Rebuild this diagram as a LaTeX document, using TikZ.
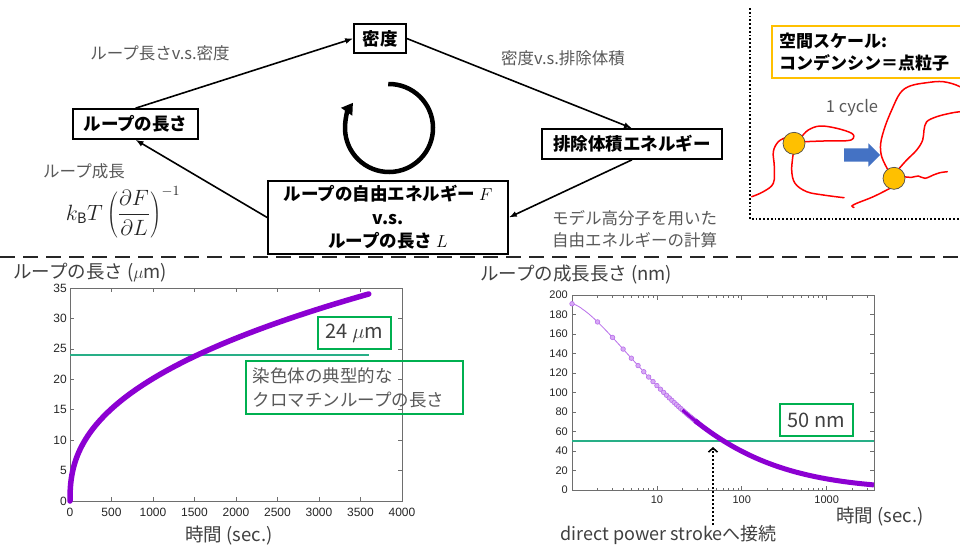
\documentclass[tikz,border=0pt]{standalone}
\usepackage{fontspec}
\setmainfont{Noto Sans CJK JP}
\newfontfamily\tickfont{Liberation Sans}
\usetikzlibrary{arrows.meta}

\definecolor{labelgray}{RGB}{89,89,89}
\definecolor{textdark}{RGB}{64,64,64}
\definecolor{axisgray}{RGB}{110,110,110}
\definecolor{lengthpurple}{RGB}{140,0,210}
\definecolor{markerline}{RGB}{185,110,235}
\definecolor{markerfill}{RGB}{215,170,245}
\definecolor{refteal}{RGB}{40,175,135}
\definecolor{framegreen}{RGB}{0,176,80}
\definecolor{scaleyellow}{RGB}{255,192,0}
\definecolor{stepblue}{RGB}{68,114,196}
\definecolor{chainred}{RGB}{255,0,0}

\tikzset{
  stagebox/.style={draw, line width=1.6pt, inner sep=0pt, align=center,
    font=\fontsize{17.5}{23.5}\selectfont\bfseries},
  flow/.style={line width=1.6pt, -{Latex[length=8pt,width=6pt]}},
  relnote/.style={text=labelgray, inner sep=0pt, font=\fontsize{16.5}{22}\selectfont},
  axislabel/.style={text=textdark, inner sep=0pt, font=\fontsize{18.5}{22}\selectfont},
  greenbox/.style={draw=framegreen, line width=1.8pt, text=textdark, inner sep=0pt},
  ticklabel/.style={text=black!85, inner sep=0pt, font=\tickfont\fontsize{12}{12}\selectfont},
  smalltick/.style={text=black!85, inner sep=0pt, font=\tickfont\fontsize{11}{11}\selectfont},
  axisframe/.style={draw=axisgray, line width=0.8pt},
  tickmark/.style={draw=axisgray, line width=0.7pt},
  chain/.style={chainred, line width=1.5pt, line cap=round},
  condensin/.style={circle, fill=scaleyellow, draw=black!70, line width=0.7pt,
    minimum size=22pt, inner sep=0pt},
  growmark/.style={circle, draw=markerline, fill=markerfill, line width=0.6pt,
    minimum size=4.6pt, inner sep=0pt},
}

\begin{document}
\begin{tikzpicture}[x=1pt,y=-1pt]
\fill[white] (0,0) rectangle (960,547);
\useasboundingbox (0,0) rectangle (960,547);

% ---------- cycle of quantities ----------
\node[stagebox, minimum width=52pt, minimum height=29pt] (dens) at (380,38.5) {密度};
\node[stagebox, minimum width=125pt, minimum height=30pt] (len) at (135.5,124) {ループの長さ};
\node[stagebox, minimum width=180pt, minimum height=30pt] (excl) at (632,144) {排除体積エネルギー};
\node[stagebox, minimum width=240pt, minimum height=73pt] (free) at (388,217.5)
  {ループの自由エネルギー $F$\\v.s.\\ループの長さ $L$};

\draw[flow] (len.north) -- (dens.west);
\draw[flow] (dens.east) -- (excl.north);
\draw[flow] (excl.south) -- (free.east);
\draw[flow] (free.west) -- (len.south);

% clockwise cycle symbol
\coordinate (turn) at (389,128);
\draw[line width=4.5pt, -{Triangle[length=11pt,width=13pt]}]
  ([shift={(-91:44)}]turn) arc[start angle=-91, end angle=215, radius=44];

% relation notes
\node[relnote] (n1) at (160,53) {ループ長さv.s.密度};
\node[relnote] (n2) at (563,58) {密度v.s.排除体積};
\node[relnote] (n3) at (84,171) {ループ成長};
\node[text=black!85, inner sep=0pt, scale=1.28, font=\fontsize{16}{20}\selectfont] (n4) at (123,212)
  {$\displaystyle k_{\mathrm{B}}T\left(\frac{\partial F}{\partial L}\right)^{-1}$};
\node[relnote, align=left, anchor=west] (n5) at (552,229) {モデル高分子を用いた\\自由エネルギーの計算};

% separator
\draw[line width=2.5pt, dash pattern=on 15pt off 8pt, black!85] (0,257) -- (960,257);

% ---------- spatial scale inset ----------
\draw[line width=1.8pt, dotted] (750,8) -- (750,219) -- (962,219);
\node[draw=scaleyellow, line width=2pt, anchor=north west, minimum width=195pt,
  minimum height=52pt, align=left, text width=181pt, inner xsep=7pt, inner ysep=0pt,
  font=\fontsize{17}{22}\selectfont\bfseries] (scale) at (771,25)
  {空間スケール:\\コンデンシン＝点粒子};
\node[relnote] (cyc) at (852,108) {1 cycle};
\fill[stepblue] (844,148.3) -- (868.3,148.3) -- (868.3,143.3) -- (880,155)
  -- (868.3,166.7) -- (868.3,161.7) -- (844,161.7) -- cycle;

% chain before one cycle
\draw[chain] plot[smooth, tension=0.6] coordinates {(751.7,196.7) (763.3,191.7) (773.3,183.3)
  (774.3,166.7) (773.3,151.7) (778.3,141.7) (786,137.5)};
\draw[chain] plot[smooth, tension=0.6] coordinates {(801.7,136.7) (808.3,130) (820,126)
  (836.7,128.3) (851.7,133.3) (853.3,138.3) (846.7,140.7) (823.3,141) (805,141.7)};
\draw[chain] plot[smooth, tension=0.6] coordinates {(793.3,153.3) (791.7,170) (795,183.3)
  (806.7,191.7) (823.3,195) (844,197.7)};
\node[condensin] (c1) at (794,143.3) {};

% chain after one cycle
\draw[chain] plot[smooth, tension=0.6] coordinates {(890,188.3) (873.3,196.7) (856.7,203.3)
  (852,206) (854,207.5)};
\draw[chain] plot[smooth, tension=0.6] coordinates {(903.3,176.7) (911.7,177.3) (918.3,176)
  (925,178.3) (933.3,175) (940,172.7) (947.3,171.7)};
\draw[chain] plot[smooth, tension=0.6] coordinates {(888,170) (881.7,156.7) (880.7,143.3)
  (885,126.7) (891.7,110) (900,93.3) (910,86) (926.7,82.7) (943.3,81.7) (960,86.7) (972,96)};
\draw[chain] plot[smooth, tension=0.6] coordinates {(899.3,168.3) (906.7,160) (916.7,150)
  (922.7,140) (924,130) (926.7,121.7) (936.7,116.7) (950,113.3) (960,111.7) (972,111)};
\node[condensin] (c2) at (894,178.3) {};

% ---------- loop length vs time ----------
\node[axislabel, anchor=west] (ly) at (13,273) {ループの長さ ($\mu$m)};
\node[axislabel] (lx) at (229,536) {時間 (sec.)};
\draw[axisframe] (70,288) rectangle (402,501);
\foreach \t in {0,500,...,4000} {
  \pgfmathsetmacro\px{70+0.083*\t}
  \draw[tickmark] (\px,501) -- ++(0,-4) (\px,288) -- ++(0,4);
  \node[ticklabel] at (\px,512) {\t};
}
\foreach \v in {0,5,...,35} {
  \pgfmathsetmacro\py{501-6.0857*\v}
  \draw[tickmark] (70,\py) -- ++(4,0) (402,\py) -- ++(-4,0);
  \node[ticklabel, anchor=east] at (67,\py) {\v};
}
\draw[refteal, line width=1.3pt] (70,355) -- (369,355);
\draw[lengthpurple, line width=5.5pt, line cap=round] (70,501) --
  plot[domain=0.1:60, samples=150, variable=\s] ({70+0.083*\s*\s},{501-7.2116*\s^0.82});
\node[greenbox, minimum width=73pt, minimum height=32pt, font=\fontsize{20}{22}\selectfont]
  (lval) at (354.5,333) {24 $\mu$m};
\node[greenbox, anchor=north west, minimum height=53pt, text width=203pt, inner xsep=7pt,
  align=left, text=labelgray, font=\fontsize{17.5}{24}\selectfont] (lnote) at (245,360)
  {染色体の典型的な\\クロマチンループの長さ};

% ---------- growth length vs time (log time) ----------
\node[axislabel, anchor=west] (gy) at (480,275) {ループの成長長さ (nm)};
\node[axislabel] (gx) at (880,517) {時間 (sec.)};
\draw[axisframe] (572,295) rectangle (874,490);
\foreach \v in {0,20,...,200} {
  \pgfmathsetmacro\py{490-0.975*\v}
  \draw[tickmark] (572,\py) -- ++(4,0) (874,\py) -- ++(-4,0);
  \node[smalltick, anchor=east] at (568,\py) {\v};
}
\foreach \t in {10,100,1000} {
  \pgfmathsetmacro\px{572+84.9*log10(\t)}
  \draw[tickmark] (\px,490) -- ++(0,-4.5) (\px,295) -- ++(0,4.5);
  \node[smalltick] at (\px,500) {\t};
}
\foreach \d in {1,10,100} {
  \foreach \m in {2,...,9} {
    \pgfmathsetmacro\px{572+84.9*log10(\d*\m)}
    \draw[tickmark] (\px,490) -- ++(0,-2.5) (\px,295) -- ++(0,2.5);
  }
}
\foreach \t in {2000,3000} {
  \pgfmathsetmacro\px{572+84.9*log10(\t)}
  \draw[tickmark] (\px,490) -- ++(0,-2.5) (\px,295) -- ++(0,2.5);
}
\draw[refteal, line width=1.4pt] (572,441) -- (874,441);
\draw[markerline, line width=0.8pt] plot[domain=0:1.5, samples=60, variable=\u]
  ({572+84.9*\u},{490-186.225*exp(-0.579*max(\u,0.0001)^1.44)});
\foreach \t in {1,...,30} {
  \pgfmathsetmacro\u{max(log10(\t),0.0001)}
  \pgfmathsetmacro\py{490-186.225*exp(-0.579*\u^1.44)}
  \node[growmark] at ({572+84.9*\u},\py) {};
}
\draw[lengthpurple, line width=3pt] plot[domain=1.3:1.48, samples=10, variable=\u]
  ({572+84.9*\u},{490-186.225*exp(-0.579*\u^1.44)});
\draw[lengthpurple, line width=5pt] plot[domain=1.45:3.556, samples=80, variable=\u]
  ({572+84.9*\u},{490-186.225*exp(-0.579*\u^1.44)});
\node[greenbox, minimum width=73pt, minimum height=32pt, font=\fontsize{20}{22}\selectfont]
  (gval) at (816.5,420) {50 nm};

\node[relnote, text=textdark, font=\fontsize{18}{22}\selectfont] (dps) at (668.5,535)
  {direct power strokeへ接続};
\coordinate (cross) at (713,447);
\draw[line width=2pt, dotted, -{Straight Barb[length=4pt,width=9pt,line width=1.6pt]}]
  (dps.north -| cross) -- (cross);

\end{tikzpicture}
\end{document}
